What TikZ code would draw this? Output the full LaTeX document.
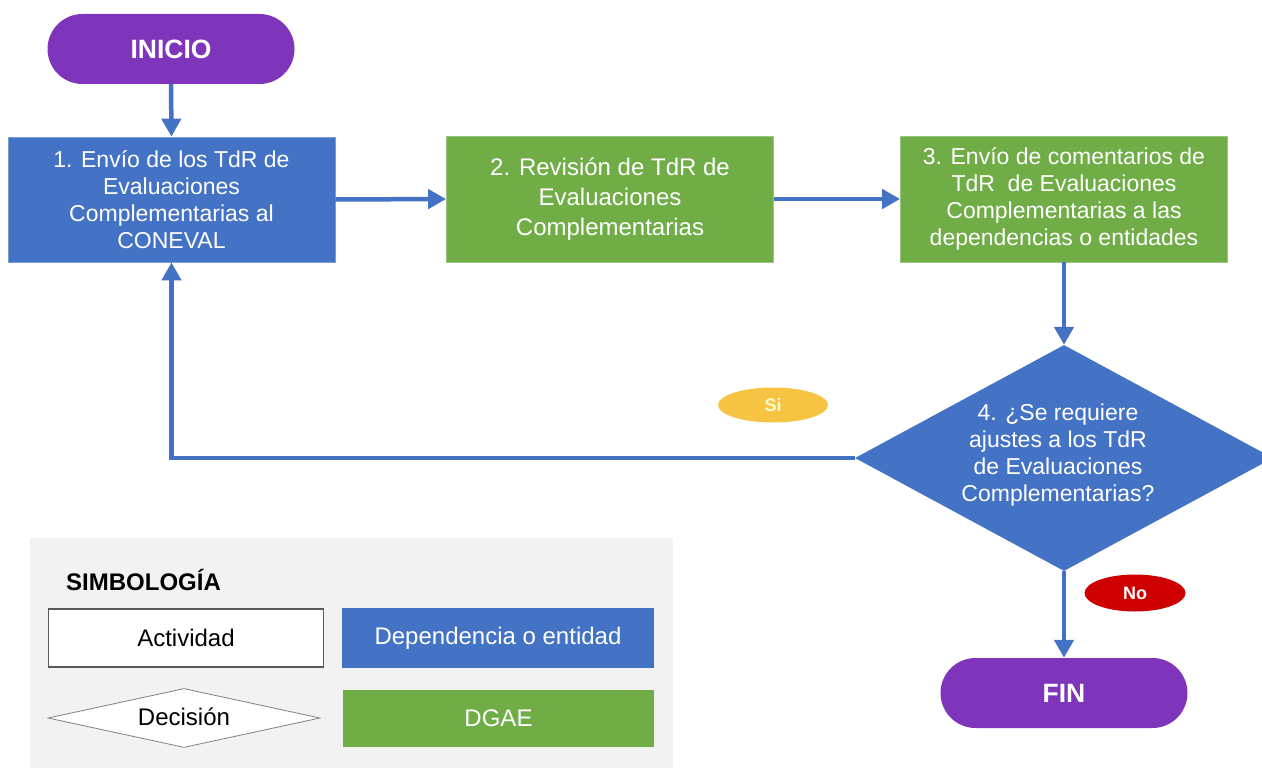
\documentclass[tikz,border=0pt]{standalone}
\usepackage{fontspec}
\setmainfont{Liberation Sans}
\usetikzlibrary{shapes.geometric,arrows.meta}
\definecolor{cblue}{HTML}{4472C4}
\definecolor{cgreen}{HTML}{70AD47}
\definecolor{cpurple}{RGB}{126,53,188}
\definecolor{cyellow}{RGB}{246,196,66}
\definecolor{cred}{RGB}{206,0,0}
\definecolor{cgray}{HTML}{F2F2F2}
\definecolor{cdark}{HTML}{595959}
\tikzset{
  terminal/.style={rectangle, rounded corners=35pt, fill=cpurple, text=white,
    minimum width=247pt, minimum height=70pt, inner sep=0pt,
    font=\fontsize{26.5}{30}\selectfont\bfseries},
  bluebox/.style={rectangle, fill=cblue, draw=cblue!70!white, line width=0.8pt, text=white,
    minimum width=327pt, minimum height=125pt, inner sep=0pt, align=center,
    font=\fontsize{23}{27}\selectfont},
  greenbox/.style={rectangle, fill=cgreen, draw=cgreen!70!white, line width=0.8pt, text=white,
    minimum width=327pt, minimum height=126pt, inner sep=0pt, align=center,
    font=\fontsize{23}{27}\selectfont},
  flow/.style={draw=cblue, line width=4.5pt, -{Triangle[length=18pt,width=19pt]}},
  tag/.style={ellipse, inner sep=0pt, font=\fontsize{18}{20}\selectfont\bfseries},
  legtext/.style={font=\fontsize{24}{28}\selectfont, inner sep=0pt, align=center}
}
\begin{document}
\begin{tikzpicture}[x=1pt,y=-1pt]
\useasboundingbox (0,0) rectangle (1262,768);
\fill[white] (0,0) rectangle (1262,768);

% legend background
\fill[cgray] (30,538) rectangle (673,768);

% main flow
\node[terminal] (ini) at (171,49) {INICIO};
\node[bluebox] (b1) at (171.5,199.5) {1. Envío de los TdR de\\Evaluaciones\\Complementarias al\\CONEVAL};
\node[greenbox, font=\fontsize{24}{30}\selectfont] (b2) at (610,199) {2. Revisión de TdR de\\Evaluaciones\\Complementarias};
\node[greenbox] (b3) at (1064,199) {3. Envío de comentarios de\\TdR\ \ de Evaluaciones\\Complementarias a las\\dependencias o entidades};
\node[diamond, fill=cblue, minimum width=418pt, minimum height=226pt, inner sep=0pt] (dec) at (1064,458) {};
\node[text=white, align=center, inner sep=0pt, font=\fontsize{23}{27}\selectfont] (dect) at (1058,455) {4. ¿Se requiere\\ajustes a los TdR\\de Evaluaciones\\Complementarias?};
\node[terminal] (fin) at (1064,693) {FIN};

\node[tag, fill=cyellow, text=yellow!20!white, minimum width=110pt, minimum height=35pt] (si) at (773,405) {Si};
\node[tag, fill=cred, text=white, minimum width=101pt, minimum height=37pt] (no) at (1135,593) {No};

\draw[flow] (ini.south) -- (b1.north);
\draw[flow] (b1.east) -- (b2.west);
\draw[flow] (b2.east) -- (b3.west);
\draw[flow] (b3.south) -- (dec.north);
\draw[flow] (dec.south) -- (fin.north);
\draw[flow] (dec.west) -| (b1.south);

% legend
\node[font=\fontsize{24}{28}\selectfont\bfseries, anchor=west, inner sep=0pt] (simb) at (66,580) {SIMBOLOGÍA};
\node[legtext, rectangle, fill=white, draw=cdark, line width=1.5pt, minimum width=275pt, minimum height=58pt] (act) at (186,638) {Actividad};
\node[legtext, diamond, fill=white, draw=gray, line width=0.8pt, minimum width=272pt, minimum height=59pt, inner sep=0pt] (dcs) at (184,718) {};
\node[legtext] (dcst) at (184,717) {Decisión};
\node[legtext, rectangle, fill=cblue, text=white, minimum width=312pt, minimum height=60pt] (dep) at (498,638) {Dependencia o entidad};
\node[legtext, rectangle, fill=cgreen, text=white, minimum width=311pt, minimum height=57pt] (dgae) at (498.5,718.5) {DGAE};
\end{tikzpicture}
\end{document}
